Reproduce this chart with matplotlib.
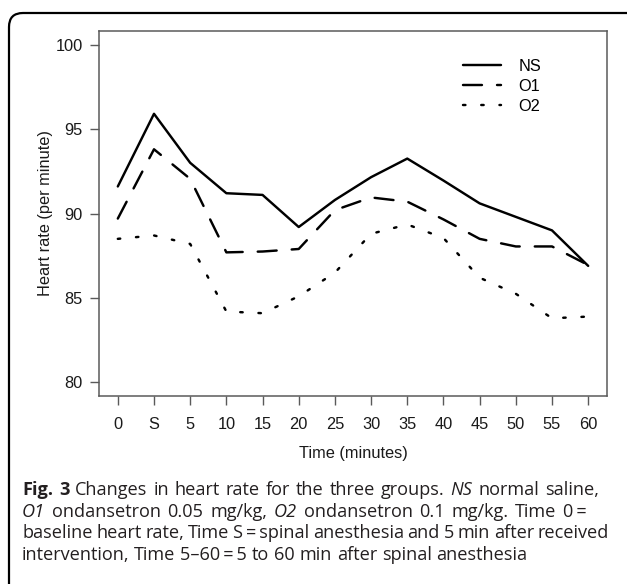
import matplotlib
matplotlib.use("Agg")
import matplotlib.pyplot as plt
from matplotlib.patches import FancyBboxPatch
from matplotlib.transforms import IdentityTransform

times = ['0', 'S', '5', '10', '15', '20', '25', '30', '35', '40', '45', '50', '55', '60']
ns = [91.6, 95.9, 93.0, 91.2, 91.1, 89.2, 90.8, 92.15, 93.25, 91.95, 90.6, 89.8, 89.0, 86.9]
o1 = [89.7, 93.8, 92.05, 87.7, 87.75, 87.9, 90.2, 90.95, 90.7, 89.65, 88.5, 88.05, 88.05, 86.95]
o2 = [88.5, 88.7, 88.2, 84.2, 84.1, 85.1, 86.5, 88.8, 89.35, 88.55, 86.2, 85.25, 83.8, 83.9]
series_names = ['NS', 'O1', 'O2']
yticks = [80, 85, 90, 95, 100]

W, H = 627, 584
fig = plt.figure(figsize=(W / 100, H / 100), dpi=100)

# axes placement (pixels)
L, R, T, B = 99, 607, 31, 396
ax = fig.add_axes([L / W, (H - B) / H, (R - L) / W, (B - T) / H])

lw = 1.75
x = list(range(len(times)))
ax.plot(x, ns, color='black', lw=lw, solid_capstyle='round', solid_joinstyle='round', label=series_names[0])
ax.plot(x, o1, color='black', lw=lw, dashes=(7.8, 6.2), dash_capstyle='round', label=series_names[1])
ax.plot(x, o2, color='black', lw=lw, dashes=(1.0, 6.5), dash_capstyle='round', label=series_names[2])

ax.set_xlim(-0.52, 13.52)
ax.set_ylim(79.2, 100.8)
ax.set_xticks(x)
ax.set_xticklabels(times)
ax.set_yticks(yticks)
ax.set_yticklabels([str(v) for v in yticks])

frame_c = '#5a5a5a'
for s in ax.spines.values():
    s.set_color(frame_c)
    s.set_linewidth(1.1)
ax.tick_params(axis='both', colors=frame_c, labelcolor='#1a1a1a', labelsize=11.8,
               length=6.2, width=1.0, direction='out')
ax.tick_params(axis='x', pad=9)
ax.tick_params(axis='y', pad=5.5)
for lab in ax.get_xticklabels() + ax.get_yticklabels():
    lab.set_family(['Liberation Sans', 'DejaVu Sans'])

ax.set_xlabel('Time (minutes)', fontsize=11.8, family=['Liberation Sans', 'DejaVu Sans'],
              color='#1a1a1a', labelpad=10)
ax.set_ylabel('Heart rate (per minute)', fontsize=11.8, family=['Liberation Sans', 'DejaVu Sans'],
              color='#1a1a1a', labelpad=2)

leg = ax.legend(loc='upper right', bbox_to_anchor=(0.90, 0.965), frameon=False,
                prop={'family': ['Liberation Sans', 'DejaVu Sans'], 'size': 11.8},
                handlelength=2.3, handletextpad=1.1, labelspacing=0.32)

# outer rounded box
box = FancyBboxPatch((9, -40), W + 40, (H - 13) + 40, boxstyle='round,pad=0,rounding_size=14',
                     transform=IdentityTransform(), fill=False, edgecolor='black', lw=1.6)
fig.patches.append(box)

# caption (word-by-word placement, justified for the first three lines)
cap_fam = ['Open Sans', 'DejaVu Sans']
cap_size = 13.1
cap_col = '#231f20'
lines = [
    [("Fig. 3", 'normal', 'bold'), ("Changes in heart rate for the three groups.", 'normal', 'normal'),
     ("NS", 'italic', 'normal'), ("normal saline,", 'normal', 'normal')],
    [("O1", 'italic', 'normal'), ("ondansetron 0.05 mg/kg,", 'normal', 'normal'),
     ("O2", 'italic', 'normal'), ("ondansetron 0.1 mg/kg. Time 0\u2009=", 'normal', 'normal')],
    [("baseline heart rate, Time S\u2009=\u2009spinal anesthesia and 5 min after received", 'normal', 'normal')],
    [("intervention, Time 5\u201360\u2009=\u20095 to 60 min after spinal anesthesia", 'normal', 'normal')],
]
right_edges = [599, 587, 609, None]
baselines = [495, 517, 538.5, 560]
renderer = fig.canvas.get_renderer()

probe = fig.text(0, 0, "a a", family=cap_fam, fontsize=cap_size)
w_aa = probe.get_window_extent(renderer).width
probe.set_text("aa")
space_w = w_aa - probe.get_window_extent(renderer).width
probe.remove()

x0 = 22
for runs, yb, rx in zip(lines, baselines, right_edges):
    words = []
    for txt, style, weight in runs:
        for wd in txt.split(' '):
            words.append((wd, style, weight))
    arts = []
    widths = []
    for wd, style, weight in words:
        t = fig.text(0, H - yb, wd, transform=IdentityTransform(), family=cap_fam,
                     fontsize=cap_size, style=style, weight=weight, color=cap_col,
                     ha='left', va='baseline')
        arts.append(t)
        widths.append(t.get_window_extent(renderer).width)
    if rx is not None and len(words) > 1:
        gap = (rx - x0 - sum(widths)) / (len(words) - 1)
    else:
        gap = space_w
    xp = x0
    for t, w in zip(arts, widths):
        t.set_x(xp)
        xp += w + gap

fig.savefig('out.png', dpi=100)
